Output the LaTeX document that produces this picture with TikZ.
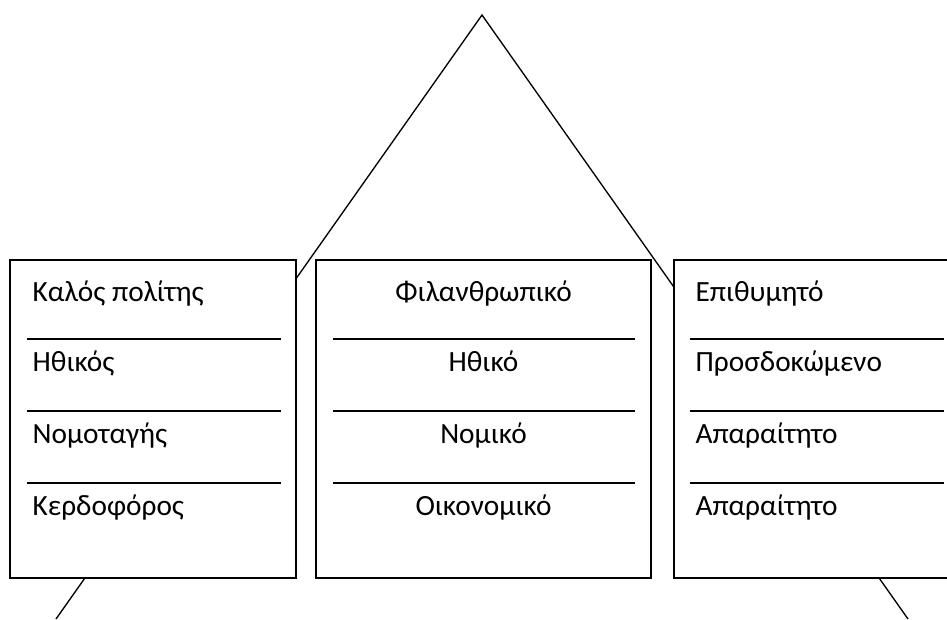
\documentclass[tikz,border=0pt]{standalone}
\usepackage{fontspec}
\setmainfont{Carlito}
\begin{document}
\begin{tikzpicture}[x=0.75pt,y=-0.75pt,
  line width=1pt,
  boxstyle/.style={draw=black,fill=white,line width=1.1pt},
  sepline/.style={line width=1.1pt},
  lbl/.style={inner sep=0pt,font=\fontsize{22}{26}\selectfont}]
\useasboundingbox (0,0) rectangle (947,619);
\clip (0,0) rectangle (947,619);
\fill[white] (0,0) rectangle (947,619);
% roof / triangle
\coordinate (apex) at (482,15);
\coordinate (bl) at (56,619);
\coordinate (br) at (908,619);
\draw (bl) -- (apex) -- (br);
% boxes
\draw[boxstyle] (10,260) rectangle (296,578);
\draw[boxstyle] (316,260) rectangle (651,578);
\draw[boxstyle] (674,260) rectangle (970,578);
% separators
\foreach \y in {339,411,483}{
  \draw[sepline] (27,\y) -- (281,\y);
  \draw[sepline] (333,\y) -- (635,\y);
  \draw[sepline] (690,\y) -- (944,\y);
}
% left texts
\node[lbl,anchor=base west] (l1) at (32,301) {Καλός πολίτης};
\node[lbl,anchor=base west] (l2) at (32,371) {Ηθικός};
\node[lbl,anchor=base west] (l3) at (32,443) {Νομοταγής};
\node[lbl,anchor=base west] (l4) at (32,515) {Κερδοφόρος};
% middle texts
\node[lbl,anchor=base] (m1) at (483.5,301) {Φιλανθρωπικό};
\node[lbl,anchor=base] (m2) at (483.5,371) {Ηθικό};
\node[lbl,anchor=base] (m3) at (483.5,443) {Νομικό};
\node[lbl,anchor=base] (m4) at (483.5,515) {Οικονομικό};
% right texts
\node[lbl,anchor=base west] (r1) at (695,301) {Επιθυμητό};
\node[lbl,anchor=base west] (r2) at (695,371) {Προσδοκώμενο};
\node[lbl,anchor=base west] (r3) at (695,443) {Απαραίτητο};
\node[lbl,anchor=base west] (r4) at (695,515) {Απαραίτητο};
\end{tikzpicture}
\end{document}
